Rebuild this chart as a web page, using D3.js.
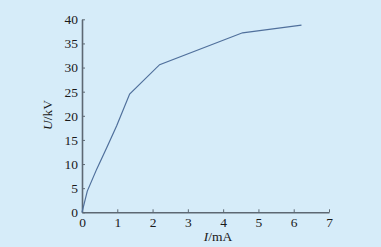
<!DOCTYPE html>
<html><head><meta charset="utf-8">
<script src="https://cdn.jsdelivr.net/npm/d3@7"></script>
<style>body{margin:0;background:#d6ecf9;} svg{display:block;}</style>
</head><body>
<script>
const currentI = [0, 0.15, 0.42, 0.7, 0.98, 1.35, 2.2, 4.55, 6.22];
const voltageU = [0, 4.4, 9.0, 13.4, 17.9, 24.5, 30.6, 37.2, 38.8];
const xTicks = [0, 1, 2, 3, 4, 5, 6, 7];
const yTicks = [0, 5, 10, 15, 20, 25, 30, 35, 40];

const W = 381, H = 247;
const svg = d3.select("body").append("svg").attr("width", W).attr("height", H);
svg.append("rect").attr("width", W).attr("height", H).attr("fill", "#d6ecf9");

const x = d3.scaleLinear().domain([0, 7]).range([82, 329]);
const y = d3.scaleLinear().domain([0, 40]).range([212.3, 19.3]);
const axisColor = "#5d6873";
const font = "'Liberation Serif', 'Times New Roman', serif";

const gx = svg.append("g").attr("transform", `translate(0,${y(0)})`)
  .call(d3.axisBottom(x).tickValues(xTicks).tickFormat(d3.format("d")).tickSize(-3).tickPadding(5).tickSizeOuter(0));
const gy = svg.append("g").attr("transform", `translate(${x(0)},0)`)
  .call(d3.axisLeft(y).tickValues(yTicks).tickFormat(d3.format("d")).tickSize(-3).tickPadding(4).tickSizeOuter(0));
[gx, gy].forEach(g => {
  g.select(".domain").attr("stroke", axisColor).attr("stroke-width", 1.6);
  g.selectAll(".tick line").attr("stroke", axisColor).attr("stroke-width", 1);
  g.selectAll(".tick text").attr("fill", "#1a1a1a").attr("font-family", font).attr("font-size", 13.5);
});

const line = d3.line().x((d, i) => x(currentI[i])).y(d => y(d));
svg.append("path").datum(voltageU).attr("d", line)
  .attr("fill", "none").attr("stroke", "#50709c").attr("stroke-width", 1.2);

const xl = svg.append("text").attr("x", 218).attr("y", 241).attr("text-anchor", "middle")
  .attr("font-family", font).attr("font-size", 13.5).attr("fill", "#1a1a1a");
xl.append("tspan").attr("font-style", "italic").text("I");
xl.append("tspan").text("/mA");

const yl = svg.append("text").attr("transform", "translate(52,115) rotate(-90)").attr("text-anchor", "middle")
  .attr("font-family", font).attr("font-size", 13.5).attr("fill", "#1a1a1a");
yl.append("tspan").attr("font-style", "italic").text("U");
yl.append("tspan").text("/kV");
</script>
</body></html>
